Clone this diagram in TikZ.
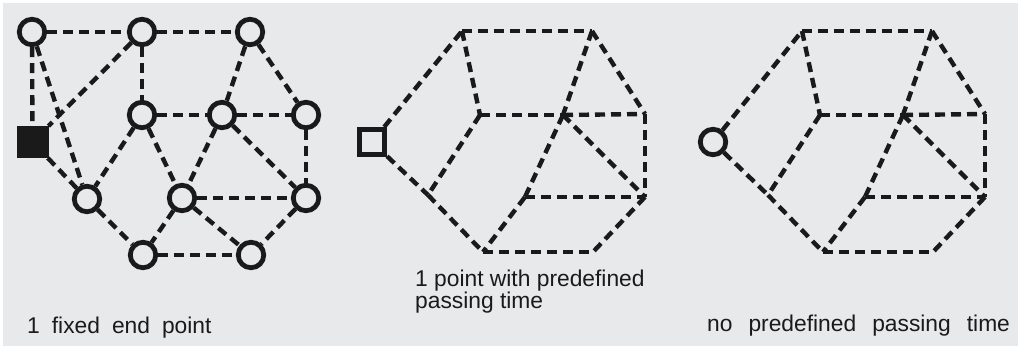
\documentclass[tikz,border=0pt]{standalone}
\usepackage{fontspec}
\setmainfont{Liberation Sans}
\definecolor{bg}{HTML}{E8E9EB}
\definecolor{ink}{HTML}{1A1A1A}
\begin{document}
\begin{tikzpicture}[x=1pt,y=-1pt,
  edge/.style={draw=ink,line width=4.4pt,dash pattern=on 10pt off 6pt},
  vtx/.style={circle,draw=ink,line width=4.8pt,minimum size=25.5pt,inner sep=0pt,fill=bg},
  fsq/.style={rectangle,draw=ink,fill=ink,line width=4pt,minimum size=28pt,inner sep=0pt},
  osq/.style={rectangle,draw=ink,fill=bg,line width=4.6pt,minimum size=25.5pt,inner sep=0pt},
  lbl/.style={anchor=base west,inner sep=0pt,text=ink,font=\fontsize{22.8}{22}\selectfont,align=left}
]
\useasboundingbox (0,0) rectangle (1022,350);
\fill[white] (0,0) rectangle (1022,350);
\fill[bg] (3,3) rectangle (1018,346);

% ---------- panel 1 ----------
\node[vtx] (n1) at (32,32) {};
\node[vtx] (n2) at (142,32) {};
\node[vtx] (n3) at (250,32) {};
\node[fsq] (sq1) at (32.5,142) {};
\node[vtx] (n4) at (142,115) {};
\node[vtx] (n5) at (222,115) {};
\node[vtx] (n6) at (306,115) {};
\node[vtx] (n7) at (87,199) {};
\node[vtx] (n8) at (182,198) {};
\node[vtx] (n9) at (306,198) {};
\node[vtx] (n10) at (143,255) {};
\node[vtx] (n11) at (251,255) {};
\draw[edge] (n1) -- (n2);
\draw[edge] (n2) -- (n3);
\draw[edge] (n1) -- (sq1);
\draw[edge] (n1) -- (n7);
\draw[edge] (n2) -- (sq1);
\draw[edge] (n2) -- (n4);
\draw[edge] (n3) -- (n5);
\draw[edge] (n3) -- (n6);
\draw[edge] (n4) -- (n5);
\draw[edge] (n5) -- (n6);
\draw[edge] (n4) -- (n7);
\draw[edge] (n4) -- (n8);
\draw[edge] (n5) -- (n8);
\draw[edge] (n5) -- (n9);
\draw[edge] (n6) -- (n9);
\draw[edge] (sq1) -- (n7);
\draw[edge] (n8) -- (n9);
\draw[edge] (n7) -- (n10);
\draw[edge] (n8) -- (n10);
\draw[edge] (n8) -- (n11);
\draw[edge] (n9) -- (n11);
\draw[edge] (n10) -- (n11);

% ---------- panel 2 ----------
\node[osq] (sq2) at (372,142) {};
\coordinate (a2) at (462,31);
\coordinate (b2) at (592,31);
\coordinate (c2) at (480,115);
\coordinate (d2) at (563,115);
\coordinate (e2) at (645,114);
\coordinate (f2) at (645,197);
\coordinate (g2) at (525,197);
\coordinate (h2) at (428,195);
\coordinate (i2) at (483,252);
\coordinate (j2) at (593,252);
\draw[edge] (sq2) -- (a2);
\draw[edge] (a2) -- (b2);
\draw[edge] (a2) -- (c2);
\draw[edge] (b2) -- (d2);
\draw[edge] (d2) -- (g2);
\draw[edge] (g2) -- (i2);
\draw[edge] (b2) -- (e2);
\draw[edge] (c2) -- (d2);
\draw[edge] (d2) -- (e2);
\draw[edge] (d2) -- (f2);
\draw[edge] (e2) -- (f2);
\draw[edge] (g2) -- (f2);
\draw[edge] (f2) -- (j2);
\draw[edge] (i2) -- (j2);
\draw[edge] (c2) -- (h2);
\draw[edge] (sq2) -- (h2);
\draw[edge] (h2) -- (i2);

% ---------- panel 3 ----------
\node[vtx] (c3o) at (713,142) {};
\coordinate (a3) at (802,31);
\coordinate (b3) at (932,31);
\coordinate (c3) at (820,115);
\coordinate (d3) at (903,115);
\coordinate (e3) at (985,114);
\coordinate (f3) at (985,197);
\coordinate (g3) at (865,197);
\coordinate (h3) at (768,195);
\coordinate (i3) at (823,252);
\coordinate (j3) at (933,252);
\draw[edge] (c3o) -- (a3);
\draw[edge] (a3) -- (b3);
\draw[edge] (a3) -- (c3);
\draw[edge] (b3) -- (d3);
\draw[edge] (d3) -- (g3);
\draw[edge] (g3) -- (i3);
\draw[edge] (b3) -- (e3);
\draw[edge] (c3) -- (d3);
\draw[edge] (d3) -- (e3);
\draw[edge] (d3) -- (f3);
\draw[edge] (e3) -- (f3);
\draw[edge] (g3) -- (f3);
\draw[edge] (f3) -- (j3);
\draw[edge] (i3) -- (j3);
\draw[edge] (c3) -- (h3);
\draw[edge] (c3o) -- (h3);
\draw[edge] (h3) -- (i3);

% ---------- labels ----------
\node[lbl] (t1) at (27,333) {1\hspace*{12pt}fixed\hspace*{12pt}end\hspace*{12pt}point};
\node[lbl] (t2) at (415,308) {1 point with predefined\\passing time};
\node[lbl] (t3) at (707,331) {no\hspace*{16pt}predefined\hspace*{16pt}passing\hspace*{16pt}time};
\end{tikzpicture}
\end{document}
